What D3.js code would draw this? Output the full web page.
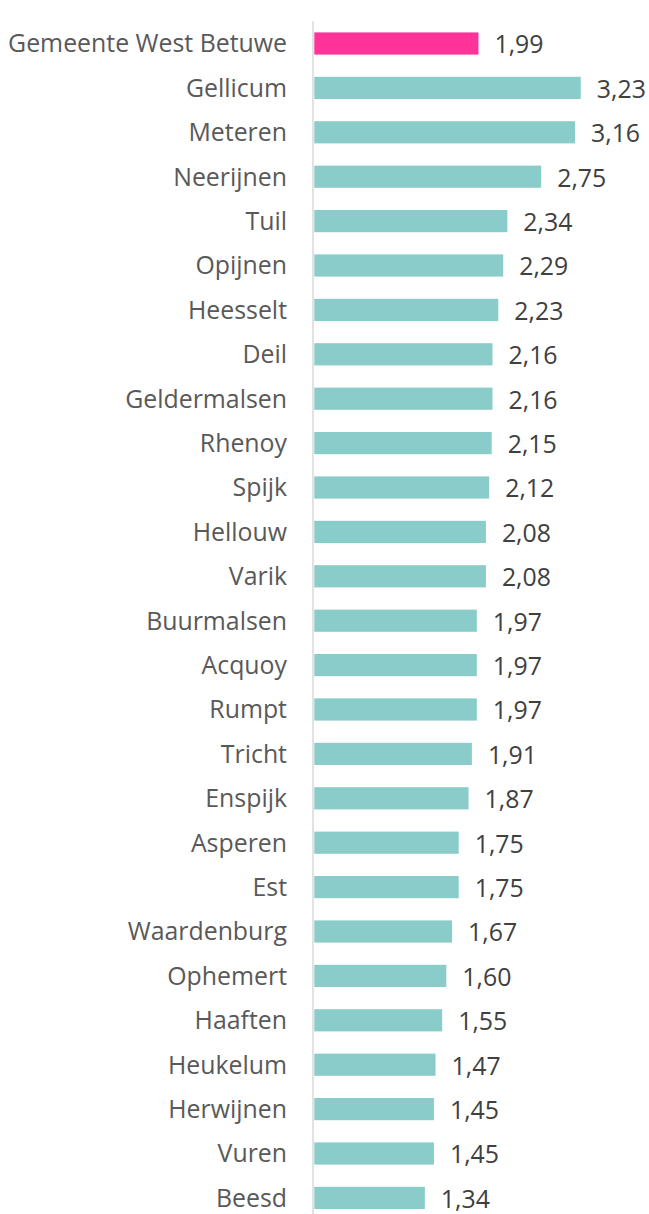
<!DOCTYPE html>
<html>
<head>
<meta charset="utf-8">
<script src="https://cdn.jsdelivr.net/npm/d3@7"></script>
<style>
  html, body { margin: 0; padding: 0; background: #ffffff; }
  svg { display: block; }
</style>
</head>
<body>
<svg id="chart" width="649" height="1214"></svg>
<script>
const categories = ["Gemeente West Betuwe", "Gellicum", "Meteren", "Neerijnen", "Tuil", "Opijnen", "Heesselt", "Deil", "Geldermalsen", "Rhenoy", "Spijk", "Hellouw", "Varik", "Buurmalsen", "Acquoy", "Rumpt", "Tricht", "Enspijk", "Asperen", "Est", "Waardenburg", "Ophemert", "Haaften", "Heukelum", "Herwijnen", "Vuren", "Beesd"];
const values = [1.99, 3.23, 3.16, 2.75, 2.34, 2.29, 2.23, 2.16, 2.16, 2.15, 2.12, 2.08, 2.08, 1.97, 1.97, 1.97, 1.91, 1.87, 1.75, 1.75, 1.67, 1.60, 1.55, 1.47, 1.45, 1.45, 1.34];
const highlight = ["Gemeente West Betuwe"];

const svg = d3.select("#chart");
const fontFamily = "'Open Sans', 'Noto Sans', sans-serif";

const x = d3.scaleLinear().domain([0, 4]).range([314.3, 644.3]);
const y = d3.scaleBand().domain(categories).range([21.3, 1220.1]).paddingInner(0.5).paddingOuter(0.25);

const data = categories.map((c, i) => ({ cat: c, val: values[i] }));
const fmt = v => d3.format(".2f")(v).replace(".", ",");

// fit font size so the longest label width matches the reference
const probe = svg.append("text").attr("font-family", fontFamily).attr("font-size", 20).text(categories[0]);
const w20 = probe.node().getComputedTextLength();
probe.remove();
const fs = 20 * 279 / w20;

// bars
svg.append("g").selectAll("rect").data(data).join("rect")
  .attr("x", x(0))
  .attr("y", d => y(d.cat))
  .attr("width", d => x(d.val) - x(0))
  .attr("height", y.bandwidth())
  .attr("fill", d => highlight.includes(d.cat) ? "#FF3399" : "#8ACCC9");

// axis line
const yAxis = d3.axisLeft(y).tickSize(0).tickPadding(26);
const ag = svg.append("g").attr("transform", `translate(313,0)`).call(yAxis);
ag.select(".domain").attr("stroke", "#D9D9D9").attr("stroke-width", 1.5).attr("d", `M0,21.3V1220`);
ag.selectAll(".tick text")
  .attr("font-family", fontFamily)
  .attr("font-size", fs)
  .attr("fill", "#595959")
  .attr("dy", "0.36em");

// value labels
svg.append("g").selectAll("text").data(data).join("text")
  .attr("x", d => x(d.val) + 16)
  .attr("y", d => y(d.cat) + y.bandwidth() / 2)
  .attr("dy", "0.4em")
  .attr("font-family", fontFamily)
  .attr("font-size", fs)
  .attr("fill", "#404040")
  .text(d => fmt(d.val));
</script>
</body>
</html>
